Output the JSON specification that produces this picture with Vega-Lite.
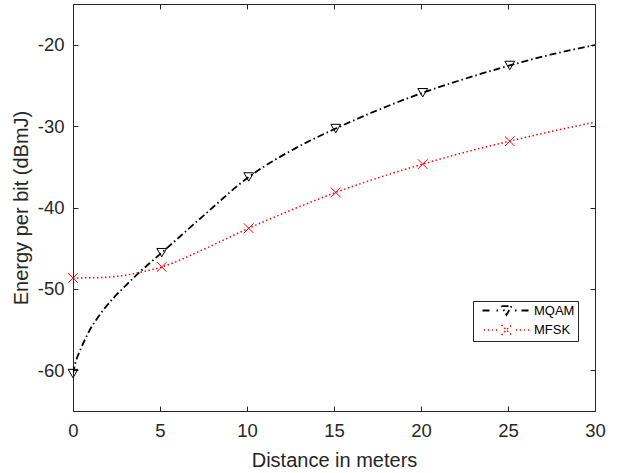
{
  "$schema": "https://vega.github.io/schema/vega-lite/v6.json",
  "autosize": {"type": "none"},
  "width": 522,
  "height": 407,
  "padding": {"left": 73, "top": 4, "right": 29, "bottom": 62},
  "background": "white",
  "config": {
    "view": {"stroke": "#262626", "strokeWidth": 1},
    "font": "Liberation Sans",
    "axis": {
      "grid": false,
      "domain": false,
      "tickColor": "#262626",
      "tickSize": -5,
      "tickWidth": 1,
      "labelColor": "#262626",
      "labelFont": "Liberation Sans",
      "labelFontSize": 18.5,
      "labelFlush": false,
      "titleFont": "Liberation Sans",
      "titleFontSize": 20,
      "titleFontWeight": "normal",
      "titleColor": "#262626"
    }
  },
  "datasets": {
    "curves": [
      {"series": "MQAM", "d": 0, "v": -60.4},
      {"series": "MQAM", "d": 0.15, "v": -59.0},
      {"series": "MQAM", "d": 0.4, "v": -57.6},
      {"series": "MQAM", "d": 0.65, "v": -56.4},
      {"series": "MQAM", "d": 0.9, "v": -55.3},
      {"series": "MQAM", "d": 1.35, "v": -53.75},
      {"series": "MQAM", "d": 1.85, "v": -52.3},
      {"series": "MQAM", "d": 2.4, "v": -50.95},
      {"series": "MQAM", "d": 3.0, "v": -49.65},
      {"series": "MQAM", "d": 3.75, "v": -48.1},
      {"series": "MQAM", "d": 4.4, "v": -46.85},
      {"series": "MQAM", "d": 5.1, "v": -45.55},
      {"series": "MQAM", "d": 7.5, "v": -41.0},
      {"series": "MQAM", "d": 10.1, "v": -36.25},
      {"series": "MQAM", "d": 12.5, "v": -33.05},
      {"series": "MQAM", "d": 15.1, "v": -30.3},
      {"series": "MQAM", "d": 17.5, "v": -28.05},
      {"series": "MQAM", "d": 20.1, "v": -25.9},
      {"series": "MQAM", "d": 22.5, "v": -24.2},
      {"series": "MQAM", "d": 25.1, "v": -22.55},
      {"series": "MQAM", "d": 27.5, "v": -21.2},
      {"series": "MQAM", "d": 30, "v": -20.05},
      {"series": "MFSK", "d": 0, "v": -48.65},
      {"series": "MFSK", "d": 1, "v": -48.64},
      {"series": "MFSK", "d": 2, "v": -48.55},
      {"series": "MFSK", "d": 3, "v": -48.32},
      {"series": "MFSK", "d": 4, "v": -47.9},
      {"series": "MFSK", "d": 5.1, "v": -47.3},
      {"series": "MFSK", "d": 7.5, "v": -45.15},
      {"series": "MFSK", "d": 10.1, "v": -42.55},
      {"series": "MFSK", "d": 12.5, "v": -40.35},
      {"series": "MFSK", "d": 15.1, "v": -38.15},
      {"series": "MFSK", "d": 17.5, "v": -36.38},
      {"series": "MFSK", "d": 20.1, "v": -34.67},
      {"series": "MFSK", "d": 22.5, "v": -33.23},
      {"series": "MFSK", "d": 25.1, "v": -31.85},
      {"series": "MFSK", "d": 27.5, "v": -30.65},
      {"series": "MFSK", "d": 30, "v": -29.52}
    ],
    "markers": [
      {"series": "MQAM", "d": 0, "v": -60.4},
      {"series": "MQAM", "d": 5.1, "v": -45.55},
      {"series": "MQAM", "d": 10.1, "v": -36.25},
      {"series": "MQAM", "d": 15.1, "v": -30.3},
      {"series": "MQAM", "d": 20.1, "v": -25.9},
      {"series": "MQAM", "d": 25.1, "v": -22.55},
      {"series": "MFSK", "d": 0, "v": -48.65},
      {"series": "MFSK", "d": 5.1, "v": -47.3},
      {"series": "MFSK", "d": 10.1, "v": -42.55},
      {"series": "MFSK", "d": 15.1, "v": -38.15},
      {"series": "MFSK", "d": 20.1, "v": -34.67},
      {"series": "MFSK", "d": 25.1, "v": -31.85}
    ]
  },
  "layer": [
    {
      "data": {"name": "curves"},
      "mark": {"type": "line", "interpolate": "monotone", "clip": true},
      "encoding": {
        "x": {
          "field": "d", "type": "quantitative",
          "scale": {"domain": [0, 30], "nice": false, "zero": false},
          "axis": {"orient": "bottom", "values": [0, 5, 10, 15, 20, 25, 30], "title": "Distance in meters", "labelPadding": 15, "titleBaseline": "alphabetic", "titleY": 55.7, "labelExpr": "'' + datum.value"}
        },
        "y": {
          "field": "v", "type": "quantitative",
          "scale": {"domain": [-65, -15], "nice": false, "zero": false},
          "axis": {"orient": "left", "values": [-60, -50, -40, -30, -20], "title": "Energy per bit (dBmJ)", "labelPadding": 14, "titleBaseline": "alphabetic", "titleX": -45.5, "labelExpr": "'' + datum.value"}
        },
        "color": {
          "field": "series", "type": "nominal",
          "scale": {"domain": ["MQAM", "MFSK"], "range": ["#000000", "#ff0000"]},
          "legend": {
            "title": null,
            "orient": "none",
            "legendX": 400,
            "legendY": 297,
            "direction": "vertical",
            "padding": 3,
            "rowPadding": 2.5,
            "strokeColor": "#262626",
            "fillColor": "white",
            "cornerRadius": 0,
            "symbolSize": 100,
            "symbolStrokeWidth": 1.2,
            "symbolDash": [1, 0],
            "symbolFillColor": "transparent",
            "symbolType": {"expr": "datum.value === 'MQAM' ? 'M-4.8,0L-3,0M-2,0L-1.7,0M-1,-0.866L1,-0.866L0,0.866L-1,-0.866M1.7,0L2,0M3,0L4.8,0' : 'M-4.525,0L-4.275,0M-3.725,0L-3.475,0M-2.925,0L-2.675,0M-2.125,0L-1.875,0M1.875,0L2.125,0M2.675,0L2.925,0M3.475,0L3.725,0M4.275,0L4.525,0M-1,-1L1,1M-1,1L1,-1'"},
            "symbolOffset": 24,
            "labelOffset": 21,
            "labelExpr": "datum.label + '\u00a0\u00a0'",
            "labelFont": "Liberation Sans",
            "labelFontSize": 13,
            "labelColor": "#000000"
          }
        },
        "strokeDash": {
          "field": "series", "type": "nominal",
          "scale": {"domain": ["MQAM", "MFSK"], "range": [[7, 3, 1.5, 3], [1.5, 2.5]]},
          "legend": null
        },
        "strokeWidth": {
          "field": "series", "type": "nominal",
          "scale": {"domain": ["MQAM", "MFSK"], "range": [1.8, 1.5]},
          "legend": null
        }
      }
    },
    {
      "data": {"name": "markers"},
      "transform": [{"filter": "datum.series === 'MQAM'"}],
      "mark": {"type": "point", "filled": false, "strokeWidth": 1, "size": 95, "opacity": 1, "shape": "triangle-down", "color": "#000000", "clip": false},
      "encoding": {
        "x": {
          "field": "d", "type": "quantitative",
          "axis": {"orient": "top", "values": [0, 5, 10, 15, 20, 25, 30], "labels": false, "title": null}
        },
        "y": {
          "field": "v", "type": "quantitative",
          "axis": {"orient": "right", "values": [-60, -50, -40, -30, -20], "labels": false, "title": null}
        }
      }
    },
    {
      "data": {"name": "markers"},
      "transform": [{"filter": "datum.series === 'MFSK'"}],
      "mark": {"type": "point", "filled": false, "strokeWidth": 1, "size": 95, "opacity": 1, "shape": "M-1,-1L1,1M-1,1L1,-1", "color": "#ff0000", "clip": false},
      "encoding": {
        "x": {"field": "d", "type": "quantitative", "axis": null},
        "y": {"field": "v", "type": "quantitative", "axis": null}
      }
    }
  ],
  "resolve": {"axis": {"x": "independent", "y": "independent"}}
}
